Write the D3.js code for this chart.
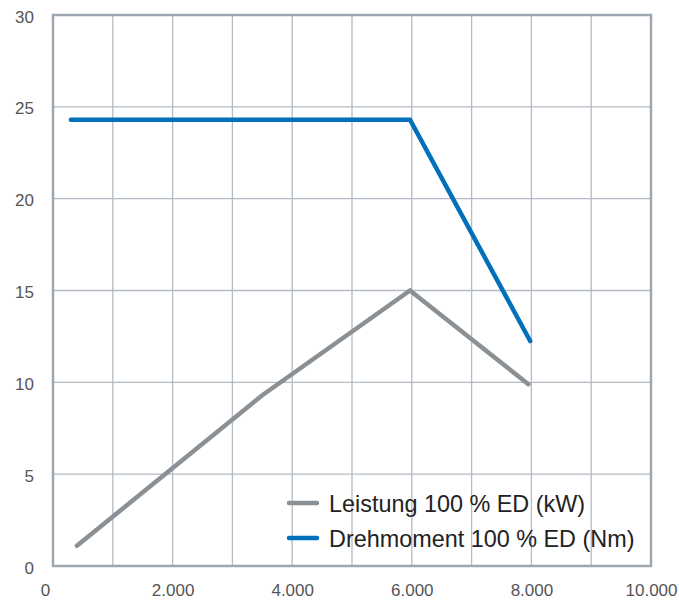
<!DOCTYPE html>
<html><head><meta charset="utf-8">
<script src="https://cdn.jsdelivr.net/npm/d3@7"></script>
<style>body{margin:0;background:#fff}svg{display:block}</style>
</head><body>
<svg id="chart" width="679" height="600"></svg>
<script>
const xTicks = [0, 2000, 4000, 6000, 8000, 10000];
const xGrid = [1000, 2000, 3000, 4000, 5000, 6000, 7000, 8000, 9000];
const yTicks = [0, 5, 10, 15, 20, 25, 30];
const leistungRpm = [400, 3500, 5970, 7950];
const leistungVal = [1.1, 9.3, 15.0, 9.9];
const drehRpm = [300, 5970, 7980];
const drehVal = [24.3, 24.3, 12.25];
const seriesNames = ["Leistung 100 % ED (kW)", "Drehmoment 100 % ED (Nm)"];
const seriesColors = ["#8b9095", "#0070bb"];

const svg = d3.select("#chart");
const L = 53, R = 651, T = 15, B = 566;
const x = d3.scaleLinear().domain([0, 10000]).range([L, R]);
const y = d3.scaleLinear().domain([0, 30]).range([B, T]);
const gridColor = "#b3bbc5";

// grid
svg.append("g").selectAll("line").data(xGrid).join("line")
  .attr("x1", d => x(d)).attr("x2", d => x(d)).attr("y1", T).attr("y2", B)
  .attr("stroke", gridColor).attr("stroke-width", 1.3);
svg.append("g").selectAll("line").data(yTicks.slice(1, -1)).join("line")
  .attr("y1", d => y(d)).attr("y2", d => y(d)).attr("x1", L).attr("x2", R)
  .attr("stroke", gridColor).attr("stroke-width", 1.3);

// frame
svg.append("rect").attr("x", L).attr("y", T).attr("width", R - L).attr("height", B - T)
  .attr("fill", "none").attr("stroke", "#9ea7b1").attr("stroke-width", 2.5);

// axes (labels only)
const fmt = d => d3.format(",")(d).replace(/,/g, ".");
const xAxis = d3.axisBottom(x).tickValues(xTicks).tickFormat(fmt).tickSize(0).tickPadding(18);
const gx = svg.append("g").attr("transform", `translate(0,${B})`).call(xAxis);
gx.select(".domain").remove();
gx.selectAll("text").attr("font-family", "Liberation Sans, Arial, sans-serif")
  .attr("font-size", 17).attr("fill", "#555")
  .attr("dx", d => d === 0 ? -8 : 0);

const yAxis = d3.axisLeft(y).tickValues(yTicks).tickSize(0).tickPadding(19);
const gy = svg.append("g").attr("transform", `translate(${L},0)`).call(yAxis);
gy.select(".domain").remove();
gy.selectAll("text").attr("font-family", "Liberation Sans, Arial, sans-serif")
  .attr("font-size", 17).attr("fill", "#555").attr("dy", "0.42em");

// lines
const line = d3.line().x(d => x(d[0])).y(d => y(d[1]));
const series = [
  d3.zip(leistungRpm, leistungVal),
  d3.zip(drehRpm, drehVal)
];
svg.append("g").selectAll("path").data(series).join("path")
  .attr("d", line).attr("fill", "none")
  .attr("stroke", (d, i) => seriesColors[i]).attr("stroke-width", 4.5)
  .attr("stroke-linecap", "round").attr("stroke-linejoin", "miter");

// legend
const lg = svg.append("g");
seriesNames.forEach((name, i) => {
  const yy = 503 + i * 35;
  lg.append("line").attr("x1", 289).attr("x2", 317).attr("y1", yy).attr("y2", yy)
    .attr("stroke", seriesColors[i]).attr("stroke-width", 4.5).attr("stroke-linecap", "round");
  lg.append("text").attr("x", 329).attr("y", yy + 9).text(name)
    .attr("font-family", "Liberation Sans, Arial, sans-serif").attr("font-size", 23.4)
    .attr("fill", "#222");
});
</script>
</body></html>
